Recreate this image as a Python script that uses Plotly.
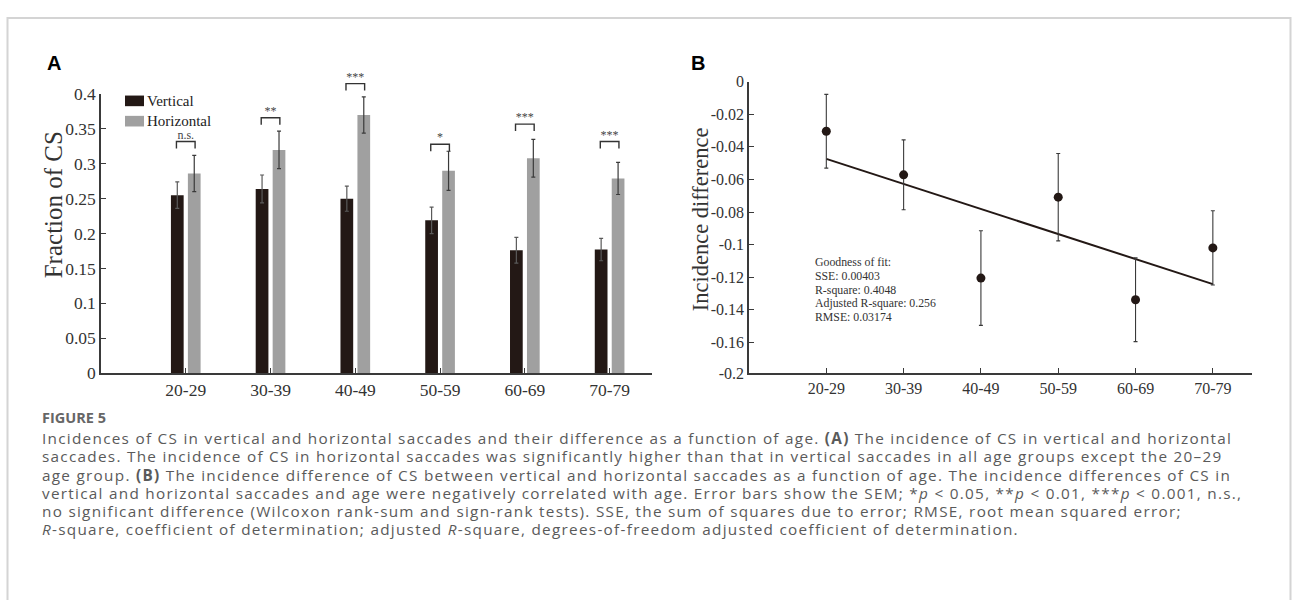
import numpy as np
import plotly.graph_objects as go

# ---------------- data ----------------
categories = ["20-29", "30-39", "40-49", "50-59", "60-69", "70-79"]
series_names = ["Vertical", "Horizontal"]
vertical = [0.255, 0.264, 0.250, 0.219, 0.176, 0.177]
vertical_err = [0.019, 0.020, 0.018, 0.019, 0.0185, 0.016]
horizontal = [0.286, 0.320, 0.370, 0.290, 0.308, 0.279]
horizontal_err = [0.026, 0.027, 0.026, 0.028, 0.027, 0.023]
sig_labels = ["n.s.", "**", "***", "*", "***", "***"]
bracket_y = [0.332, 0.366, 0.415, 0.328, 0.357, 0.332]

diff = [-0.0305, -0.0572, -0.1205, -0.0709, -0.1338, -0.1020]
diff_err = [0.0226, 0.0214, 0.0290, 0.0268, 0.0257, 0.0228]
fit_stats = ["Goodness of fit:", "SSE: 0.00403", "R-square: 0.4048",
             "Adjusted R-square: 0.256", "RMSE: 0.03174"]

a_yticks = [0, 0.05, 0.1, 0.15, 0.2, 0.25, 0.3, 0.35, 0.4]
a_yticklabels = ["0", "0.05", "0.1", "0.15", "0.2", "0.25", "0.3", "0.35", "0.4"]
b_ybottom = -0.1787
b_yticks = [0, -0.02, -0.04, -0.06, -0.08, -0.1, -0.12, -0.14, -0.16, b_ybottom]
b_yticklabels = ["0", "-0.02", "-0.04", "-0.06", "-0.08", "-0.1", "-0.12", "-0.14", "-0.16", "-0.2"]

caption_title = "FIGURE 5"
caption_lines = [
    "Incidences of CS in vertical and horizontal saccades and their difference as a function of age. <b>(A)</b> The incidence of CS in vertical and horizontal",
    "saccades. The incidence of CS in horizontal saccades was significantly higher than that in vertical saccades in all age groups except the 20\u201329",
    "age group. <b>(B)</b> The incidence difference of CS between vertical and horizontal saccades as a function of age. The incidence differences of CS in",
    "vertical and horizontal saccades and age were negatively correlated with age. Error bars show the SEM; *<i>p</i> &lt; 0.05, **<i>p</i> &lt; 0.01, ***<i>p</i> &lt; 0.001, n.s.,",
    "no significant difference (Wilcoxon rank-sum and sign-rank tests). SSE, the sum of squares due to error; RMSE, root mean squared error;",
    "<i>R</i>-square, coefficient of determination; adjusted <i>R</i>-square, degrees-of-freedom adjusted coefficient of determination.",
]

# ---------------- helpers ----------------
W, H = 1293, 600
def px(x):
    return x / W
def py(y):
    return 1 - y / H

SERIF = "Liberation Serif"
DARK = "#231815"
GRAY = "#a0a0a0"
AX = "#3a3a3a"
colors = [DARK, GRAY]

xs = np.arange(1, len(categories) + 1)

# panel A geometry (pixels): plot bottom / top / extended top for brackets
A_BOT, A_TOP, A_EXT = 375.5, 87.0, 58.0
a_range_top = 0.4
a_ext_top = a_range_top * (A_BOT - A_EXT) / (A_BOT - A_TOP)

fig = go.Figure()

# Panel A bars
fig.add_trace(go.Bar(
    x=xs, y=vertical, name=series_names[0], marker=dict(color=DARK, line=dict(width=0)),
    error_y=dict(type="data", array=vertical_err, color="#5a5a5a", thickness=1.2, width=2),
    showlegend=False, xaxis="x", yaxis="y"))
fig.add_trace(go.Bar(
    x=xs, y=horizontal, name=series_names[1], marker=dict(color=GRAY, line=dict(width=0)),
    error_y=dict(type="data", array=horizontal_err, color="#3a3a3a", thickness=1.2, width=2),
    showlegend=False, xaxis="x", yaxis="y"))

# significance brackets and labels (hidden axis with the same scale, taller domain)
leg = 0.01
half = 0.11
for i, (xc, h) in enumerate(zip(xs, bracket_y)):
    fig.add_trace(go.Scatter(
        x=[xc - half, xc - half, xc + half, xc + half],
        y=[h - leg, h, h, h - leg], mode="lines",
        line=dict(color="#333333", width=1.4), showlegend=False,
        hoverinfo="skip", xaxis="x", yaxis="y3"))
fig.add_trace(go.Scatter(
    x=xs, y=bracket_y, mode="text", text=sig_labels, textposition="top center",
    textfont=dict(family=SERIF, size=12, color="#444444"),
    showlegend=False, hoverinfo="skip", xaxis="x", yaxis="y3"))

# Panel B: fit line and points
coef = np.polyfit(xs, diff, 1)
fit_x = np.array([xs[0], xs[-1]])
fig.add_trace(go.Scatter(
    x=fit_x, y=np.polyval(coef, fit_x), mode="lines",
    line=dict(color=DARK, width=2), showlegend=False, xaxis="x2", yaxis="y2"))
fig.add_trace(go.Scatter(
    x=xs, y=diff, mode="markers", marker=dict(color=DARK, size=9),
    error_y=dict(type="data", array=diff_err, color="#3a3a3a", thickness=1.1, width=2),
    showlegend=False, xaxis="x2", yaxis="y2"))

axis_common = dict(showline=True, linecolor=AX, linewidth=1.5, ticks="inside",
                   ticklen=5, tickwidth=1.2, tickcolor=AX, showgrid=False,
                   zeroline=False, mirror=False)

fig.update_layout(
    width=W, height=H, margin=dict(l=0, r=0, t=0, b=0),
    paper_bgcolor="white", plot_bgcolor="rgba(0,0,0,0)",
    barmode="group", bargap=0.6, bargroupgap=0.25,
    xaxis=dict(domain=[px(101), px(652)], range=[0, 6.5], tickvals=xs, ticktext=categories,
               anchor="y", tickfont=dict(family=SERIF, size=17.5, color="#333"), **axis_common),
    yaxis=dict(domain=[py(A_BOT), py(A_TOP)], range=[0, a_range_top], tickvals=a_yticks,
               ticktext=a_yticklabels, anchor="x",
               tickfont=dict(family=SERIF, size=17.5, color="#333"), **axis_common),
    yaxis3=dict(domain=[py(A_BOT), py(A_EXT)], range=[0, a_ext_top], visible=False,
                anchor="x", showgrid=False, zeroline=False),
    xaxis2=dict(domain=[px(749), px(1251.5)], range=[0, 6.5], tickvals=xs, ticktext=categories,
                anchor="y2", tickfont=dict(family=SERIF, size=16, color="#333"), **axis_common),
    yaxis2=dict(domain=[py(375.5), py(74)], range=[b_ybottom, 0], tickvals=b_yticks,
                ticktext=b_yticklabels, anchor="x2",
                tickfont=dict(family=SERIF, size=16, color="#333"), **axis_common),
    showlegend=False,
)

# legend (key squares + labels)
for i, name in enumerate(series_names):
    top = 88.5 + 21 * i
    fig.add_shape(type="rect", xref="paper", yref="paper", x0=px(125), x1=px(144),
                  y0=py(top + 11), y1=py(top), fillcolor=colors[i], line=dict(width=0))
    fig.add_annotation(x=px(145), y=py(top + 5.5), xref="paper", yref="paper", text=name,
                       showarrow=False, xanchor="left", yanchor="middle",
                       font=dict(family=SERIF, size=15, color="#222"))

# axis titles
fig.add_annotation(x=px(53.5), y=py(201.5), xref="paper", yref="paper", text="Fraction of CS",
                   textangle=-90, showarrow=False, xanchor="center", yanchor="middle",
                   font=dict(family=SERIF, size=25, color="#333"))
fig.add_annotation(x=px(700), y=py(216.5), xref="paper", yref="paper", text="Incidence difference",
                   textangle=-90, showarrow=False, xanchor="center", yanchor="middle",
                   font=dict(family=SERIF, size=22.5, color="#333"))

# panel letters
for lab, xx, yy in [("A", 53.5, 55), ("B", 698, 54.5)]:
    fig.add_annotation(x=px(xx), y=py(yy), xref="paper", yref="paper", text="<b>%s</b>" % lab,
                       showarrow=False, xanchor="center", yanchor="middle",
                       font=dict(family="Liberation Sans", size=20, color="#000"))

# goodness of fit text
for i, t in enumerate(fit_stats):
    fig.add_annotation(x=px(813), y=py(261 + 14.2 * i), xref="paper", yref="paper", text=t,
                       showarrow=False, xanchor="left", yanchor="middle",
                       font=dict(family=SERIF, size=11.8, color="#333"))

# caption
fig.add_annotation(x=px(40), y=py(421.5), xref="paper", yref="paper", text="<b>%s</b>" % caption_title,
                   showarrow=False, xanchor="left", yanchor="middle",
                   font=dict(family="Open Sans", size=14.5, color="#666666"))
for i, t in enumerate(caption_lines):
    fig.add_annotation(x=px(40), y=py(443 + 18.8 * i), xref="paper", yref="paper",
                       text='<span style="letter-spacing:1.28px">%s</span>' % t,
                       showarrow=False, xanchor="left", yanchor="middle", align="left",
                       font=dict(family="Open Sans", size=15.3, color="#5a5a5a"))

# outer frame
fig.add_shape(type="rect", xref="paper", yref="paper", x0=px(7.5), x1=px(1290.5),
              y0=-0.2, y1=py(8.3), line=dict(color="#d4d4d4", width=2), layer="below")

fig.write_html("out.html")
